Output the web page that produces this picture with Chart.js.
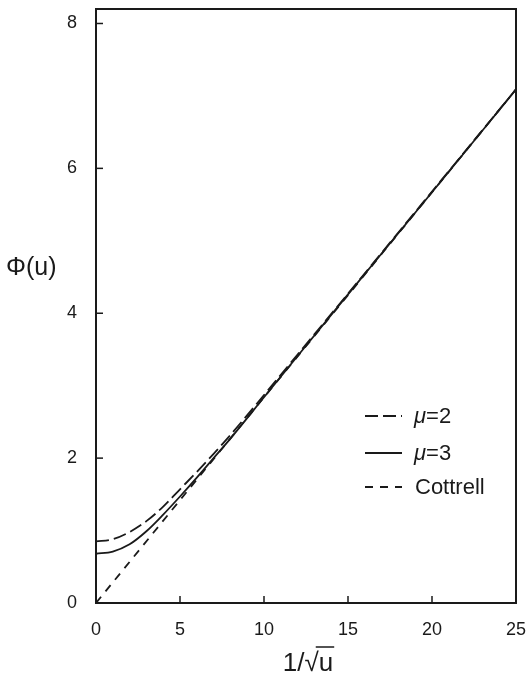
<!DOCTYPE html>
<html><head><meta charset="utf-8">
<script src="https://cdn.jsdelivr.net/npm/chart.js@4"></script>
<style>html,body{margin:0;padding:0;background:#fff}#wrap{width:528px;height:686px}</style>
</head><body><div id="wrap"><canvas id="c" width="528" height="686"></canvas></div>
<script>
const xMu2 = [0, 1, 2, 3, 4, 5, 6, 7, 8, 10, 12, 15, 20, 25];
const yMu2 = [0.85, 0.88, 0.98, 1.13, 1.33, 1.57, 1.81, 2.06, 2.32, 2.87, 3.43, 4.27, 5.68, 7.09];
const xMu3 = [0, 1, 2, 3, 4, 5, 6, 7, 8, 10, 12, 15, 20, 25];
const yMu3 = [0.68, 0.71, 0.81, 0.99, 1.22, 1.47, 1.73, 2.00, 2.27, 2.84, 3.41, 4.26, 5.67, 7.09];
const xCot = [0, 5, 10, 15, 20, 25];
const yCot = [0, 1.42, 2.84, 4.25, 5.67, 7.09];
const xTicks = [0, 5, 10, 15, 20, 25];
const yTicks = [0, 2, 4, 6, 8];
const seriesLabels = ["μ=2", "μ=3", "Cottrell"];

const pts = (xs, ys) => xs.map((x, i) => ({x, y: ys[i]}));
const INK = '#1a1a1a';
const FONT = '"Liberation Sans", Arial, sans-serif';
const dashes = [[13, 5], [], [8, 7]];

const framePlugin = {
  id: 'frame',
  afterDraw(chart) {
    const {ctx, chartArea: a, scales: {x, y}} = chart;
    ctx.save();
    ctx.strokeStyle = INK; ctx.lineWidth = 2;
    ctx.strokeRect(a.left, a.top, a.right - a.left, a.bottom - a.top);
    ctx.lineWidth = 1.5;
    yTicks.forEach(v => { const p = y.getPixelForValue(v); ctx.beginPath(); ctx.moveTo(a.left, p); ctx.lineTo(a.left + 7, p); ctx.stroke(); });
    xTicks.forEach(v => { const p = x.getPixelForValue(v); ctx.beginPath(); ctx.moveTo(p, a.bottom); ctx.lineTo(p, a.bottom - 7); ctx.stroke(); });
    // y title
    ctx.fillStyle = INK; ctx.textBaseline = 'middle'; ctx.textAlign = 'left';
    ctx.font = '25px ' + FONT;
    ctx.fillText('Φ(u)', 6, 268);
    // x title
    const cx = (a.left + a.right) / 2 + 2;
    ctx.font = '26px ' + FONT;
    const t1 = '1/√', t2 = 'u';
    const w1 = ctx.measureText(t1).width, w2 = ctx.measureText(t2).width;
    const sx = cx - (w1 + w2) / 2;
    ctx.fillText(t1, sx, 664);
    ctx.fillText(t2, sx + w1, 664);
    ctx.lineWidth = 1.5;
    ctx.beginPath(); ctx.moveTo(sx + w1 - 3, 647); ctx.lineTo(sx + w1 + w2 + 1, 647); ctx.stroke();
    // legend
    const lx = 365, ly = [416, 453, 487];
    seriesLabels.forEach((lab, i) => {
      ctx.setLineDash(dashes[i]); ctx.lineWidth = 1.8;
      ctx.beginPath(); ctx.moveTo(lx, ly[i]); ctx.lineTo(lx + 37, ly[i]); ctx.stroke();
      ctx.setLineDash([]);
      if (lab.startsWith('μ')) {
        ctx.font = 'italic 22px ' + FONT;
        ctx.fillText('μ', lx + 49, ly[i] + 1);
        const wm = ctx.measureText('μ').width;
        ctx.font = '22px ' + FONT;
        ctx.fillText(lab.slice(1), lx + 49 + wm, ly[i] + 1);
      } else {
        ctx.font = '22px ' + FONT;
        ctx.fillText(lab, lx + 50, ly[i] + 1);
      }
    });
    ctx.restore();
  }
};

const zeroPad = s => { s.paddingLeft = 0; s.paddingRight = 0; s.paddingTop = 0; s.paddingBottom = 0; };

new Chart(document.getElementById('c'), {
  type: 'line',
  data: {
    datasets: [
      {label: seriesLabels[0], data: pts(xMu2, yMu2), borderColor: INK, borderWidth: 1.8, borderDash: dashes[0], pointRadius: 0, cubicInterpolationMode: 'monotone'},
      {label: seriesLabels[1], data: pts(xMu3, yMu3), borderColor: INK, borderWidth: 1.8, pointRadius: 0, cubicInterpolationMode: 'monotone'},
      {label: seriesLabels[2], data: pts(xCot, yCot), borderColor: INK, borderWidth: 1.8, borderDash: dashes[2], pointRadius: 0, tension: 0}
    ]
  },
  options: {
    responsive: false, animation: false, devicePixelRatio: 1,
    layout: {padding: {left: 0, top: 9, right: 12, bottom: 0}},
    plugins: {legend: {display: false}, tooltip: {enabled: false}},
    scales: {
      x: {
        type: 'linear', min: 0, max: 25,
        grid: {display: false, drawTicks: false}, border: {display: false},
        afterBuildTicks: s => { s.ticks = xTicks.map(v => ({value: v})); },
        afterFit: s => { s.height = 83; zeroPad(s); },
        ticks: {color: INK, padding: 16, maxRotation: 0, font: {size: 18, family: FONT}}
      },
      y: {
        type: 'linear', min: 0, max: 8.2,
        grid: {display: false, drawTicks: false}, border: {display: false},
        afterBuildTicks: s => { s.ticks = yTicks.map(v => ({value: v})); },
        afterFit: s => { s.width = 96; zeroPad(s); },
        ticks: {color: INK, padding: 19, font: {size: 18, family: FONT}}
      }
    }
  },
  plugins: [framePlugin]
});
</script>
</body></html>
